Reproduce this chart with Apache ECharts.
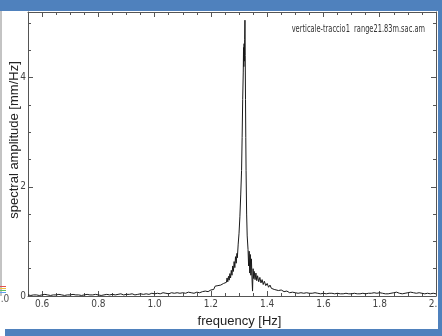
<!DOCTYPE html>
<html>
<head>
<meta charset="utf-8">
<script src="https://cdn.jsdelivr.net/npm/echarts@6/dist/echarts.min.js"></script>
<style>
  html, body { margin: 0; padding: 0; background: #fff; }
  #chart { width: 442px; height: 336px; }
</style>
</head>
<body>
<div id="chart"></div>
<script>
// frequenze [Hz]
var freqHz = [
  0.55, 0.56, 0.57, 0.58, 0.59, 0.60, 0.61, 0.62, 0.63, 0.64,
  0.65, 0.66, 0.67, 0.68, 0.69, 0.70, 0.71, 0.72, 0.73, 0.74,
  0.75, 0.76, 0.77, 0.78, 0.79, 0.80, 0.81, 0.82, 0.83, 0.84,
  0.85, 0.86, 0.87, 0.88, 0.89, 0.90, 0.91, 0.92, 0.93, 0.94,
  0.95, 0.96, 0.97, 0.98, 0.99,
  1.00, 1.01, 1.02, 1.03, 1.04, 1.05, 1.06, 1.07, 1.08, 1.09,
  1.10, 1.11, 1.12, 1.13, 1.14, 1.15, 1.16, 1.17, 1.18, 1.19,
  1.200, 1.205, 1.210, 1.215, 1.220, 1.225, 1.230, 1.235, 1.240, 1.245, 1.250,
  1.255, 1.2575, 1.260, 1.2625, 1.265, 1.2675, 1.270, 1.2725, 1.275, 1.2775, 1.280, 1.2825,
  1.285, 1.2875, 1.290, 1.2925, 1.294,
  1.297, 1.300, 1.303, 1.306, 1.309, 1.311, 1.313, 1.315, 1.316, 1.317, 1.318, 1.319, 1.320, 1.321,
  1.322, 1.323, 1.324, 1.325, 1.327, 1.329,
  1.332, 1.334, 1.336, 1.338, 1.340, 1.342, 1.344, 1.346, 1.348, 1.350,
  1.352, 1.354, 1.357, 1.360, 1.363, 1.366, 1.370, 1.374, 1.378, 1.382,
  1.386, 1.390, 1.395, 1.400, 1.405, 1.410, 1.415, 1.420, 1.425, 1.430,
  1.440, 1.450, 1.460, 1.470, 1.480, 1.490,
  1.50, 1.51, 1.52, 1.53, 1.54, 1.55, 1.56, 1.57, 1.58, 1.59,
  1.60, 1.61, 1.62, 1.63, 1.64, 1.65, 1.66, 1.67, 1.68, 1.69,
  1.70, 1.71, 1.72, 1.73, 1.74, 1.75, 1.76, 1.77, 1.78, 1.79,
  1.80, 1.81, 1.82, 1.83, 1.84, 1.85, 1.86, 1.87, 1.88, 1.89,
  1.90, 1.91, 1.92, 1.93, 1.94, 1.95, 1.96, 1.97, 1.98, 1.99, 2.00
]
// ampiezza spettrale [mm/Hz]
var ampMmHz = [
  0.02, 0.01, 0.02, 0.02, 0.01, 0.02, 0.03, 0.02, 0.01, 0.02,
  0.02, 0.03, 0.02, 0.01, 0.02, 0.02, 0.03, 0.02, 0.02, 0.01,
  0.02, 0.03, 0.02, 0.02, 0.03, 0.02, 0.01, 0.02, 0.03, 0.02,
  0.03, 0.02, 0.03, 0.04, 0.02, 0.03, 0.03, 0.04, 0.02, 0.03,
  0.04, 0.03, 0.04, 0.03, 0.05,
  0.04, 0.05, 0.04, 0.06, 0.05, 0.04, 0.06, 0.05, 0.06, 0.05,
  0.06, 0.05, 0.07, 0.06, 0.05, 0.07, 0.06, 0.08, 0.09, 0.08,
  0.11, 0.13, 0.12, 0.18, 0.15, 0.19, 0.16, 0.20, 0.18, 0.23, 0.21,
  0.25, 0.33, 0.26, 0.36, 0.29, 0.41, 0.33, 0.47, 0.38, 0.55, 0.45, 0.63,
  0.52, 0.72, 0.60, 0.78, 0.70,
  0.95, 1.15, 1.45, 1.85, 2.30, 2.90, 3.60, 4.10, 4.55, 4.20, 4.62, 4.30, 4.70, 5.05,
  4.40, 3.60, 2.90, 2.30, 1.50, 1.10,
  0.85, 0.55, 0.82, 0.42, 0.76, 0.38, 0.68, 0.33, 0.09, 0.50,
  0.32, 0.45, 0.30, 0.42, 0.28, 0.37, 0.26, 0.34, 0.24, 0.30,
  0.21, 0.27, 0.19, 0.23, 0.16, 0.20, 0.14, 0.17, 0.12, 0.14,
  0.10, 0.11, 0.08, 0.09, 0.06, 0.07,
  0.06, 0.05, 0.06, 0.05, 0.06, 0.05, 0.05, 0.06, 0.05, 0.04,
  0.05, 0.04, 0.05, 0.05, 0.04, 0.05, 0.04, 0.04, 0.05, 0.04,
  0.04, 0.05, 0.04, 0.04, 0.05, 0.04, 0.05, 0.05, 0.06, 0.05,
  0.06, 0.05, 0.04, 0.04, 0.05, 0.06, 0.07, 0.05, 0.04, 0.05,
  0.06, 0.07, 0.06, 0.05, 0.06, 0.05, 0.04, 0.05, 0.04, 0.05, 0.04
]
// tacche
var xMajorTicks = [0.6, 0.8, 1.0, 1.2, 1.4, 1.6, 1.8, 2.0]
var xMinorTicks = [0.55, 0.65, 0.7, 0.75, 0.85, 0.9, 0.95, 1.05, 1.1, 1.15, 1.25, 1.3, 1.35,
  1.45, 1.5, 1.55, 1.65, 1.7, 1.75, 1.85, 1.9, 1.95]
var yMajorTicks = [0, 2, 4]
var yMinorTicks = [0.5, 1, 1.5, 2.5, 3, 3.5, 4.5, 5]
var plotTitle = 'verticale-traccio1  range21.83m.sac.am'

var X_MIN = 0.55
var X_MAX = 2.0
var Y_MIN = 0
var Y_MAX = 5.2

var tickFont = "'Liberation Sans Narrow', 'DejaVu Sans Condensed', sans-serif"
var axisColor = '#555'

var myChart = echarts.init(document.getElementById('chart'))

function xAxisDef (position, ticks, len, showLine, showLabel) {
  return {
    type: 'value',
    position: position,
    min: X_MIN,
    max: X_MAX,
    axisLine: { show: showLine, onZero: false, lineStyle: { color: axisColor, width: 1 } },
    axisTick: { show: true, inside: true, length: len, customValues: ticks, lineStyle: { color: axisColor } },
    axisLabel: {
      show: showLabel,
      customValues: ticks,
      margin: 3,
      color: '#444',
      fontSize: 10,
      fontFamily: tickFont,
      formatter: function (v) { return v.toFixed(1) }
    },
    splitLine: { show: false }
  }
}

function yAxisDef (position, ticks, len, showLine, showLabel) {
  return {
    type: 'value',
    position: position,
    min: Y_MIN,
    max: Y_MAX,
    axisLine: { show: showLine, onZero: false, lineStyle: { color: axisColor, width: 1 } },
    axisTick: { show: true, inside: true, length: len, customValues: ticks, lineStyle: { color: axisColor } },
    axisLabel: {
      show: showLabel,
      customValues: ticks,
      margin: 2,
      color: '#444',
      fontSize: 10,
      fontFamily: tickFont
    },
    splitLine: { show: false }
  }
}

var xBottom = xAxisDef('bottom', xMajorTicks, 5, true, true)
xBottom.name = 'frequency [Hz]'
xBottom.nameLocation = 'middle'
xBottom.nameGap = 19
xBottom.nameMoveOverlap = false
xBottom.nameTextStyle = { color: '#222', fontSize: 13, fontFamily: 'Liberation Sans, Arial, sans-serif', padding: [0, 0, 0, 15] }

var yLeft = yAxisDef('left', yMajorTicks, 5, true, true)
yLeft.name = 'spectral amplitude [mm/Hz]'
yLeft.nameLocation = 'middle'
yLeft.nameGap = 7
yLeft.nameMoveOverlap = false
yLeft.nameTextStyle = { color: '#222', fontSize: 13, fontFamily: 'Liberation Sans, Arial, sans-serif', padding: [0, 0, 0, 28] }

var data = freqHz.map(function (f, i) { return [f, ampMmHz[i]] })

myChart.setOption({
  animation: false,
  backgroundColor: '#fff',
  grid: { left: 28, right: 6, top: 12, bottom: 40, containLabel: false, outerBoundsMode: 'none' },
  xAxis: [
    xBottom,
    xAxisDef('bottom', xMinorTicks, 3, false, false),
    xAxisDef('top', xMajorTicks, 5, true, false),
    xAxisDef('top', xMinorTicks, 3, false, false)
  ],
  yAxis: [
    yLeft,
    yAxisDef('left', yMinorTicks, 3, false, false),
    yAxisDef('right', yMajorTicks, 5, true, false),
    yAxisDef('right', yMinorTicks, 3, false, false)
  ],
  series: [
    {
      type: 'line',
      xAxisIndex: 0,
      yAxisIndex: 0,
      data: data,
      showSymbol: false,
      symbol: 'none',
      lineStyle: { color: '#1a1a1a', width: 1 },
      silent: true
    }
  ],
  // cornice della slide, titolo stretto e pezzo del grafico accanto
  graphic: [
    {
      type: 'text',
      x: 425,
      y: 29,
      scaleX: 0.74,
      originX: 0,
      originY: 0,
      style: {
        text: plotTitle,
        align: 'right',
        verticalAlign: 'middle',
        fill: '#333',
        fontSize: 10,
        fontFamily: tickFont
      }
    },
    { type: 'rect', shape: { x: 0, y: 0, width: 442, height: 11 }, style: { fill: '#4f81bd' }, z: 100 },
    { type: 'rect', shape: { x: 438, y: 0, width: 4, height: 336 }, style: { fill: '#4f81bd' }, z: 100 },
    { type: 'rect', shape: { x: 5, y: 329, width: 437, height: 7 }, style: { fill: '#4f81bd' }, z: 100 },
    { type: 'line', shape: { x1: 1, y1: 11, x2: 1, y2: 296 }, style: { stroke: '#888', lineWidth: 1 } },
    { type: 'rect', shape: { x: 0, y: 286, width: 6, height: 1 }, style: { fill: '#e05050' } },
    { type: 'rect', shape: { x: 0, y: 288, width: 6, height: 1 }, style: { fill: '#f0c040' } },
    { type: 'rect', shape: { x: 0, y: 290, width: 6, height: 1 }, style: { fill: '#60c060' } },
    { type: 'rect', shape: { x: 0, y: 292, width: 6, height: 1 }, style: { fill: '#60a0f0' } },
    { type: 'text', x: -5, y: 294, style: { text: '2.0', fill: '#555', fontSize: 10, fontFamily: tickFont } }
  ]
})
</script>
</body>
</html>
